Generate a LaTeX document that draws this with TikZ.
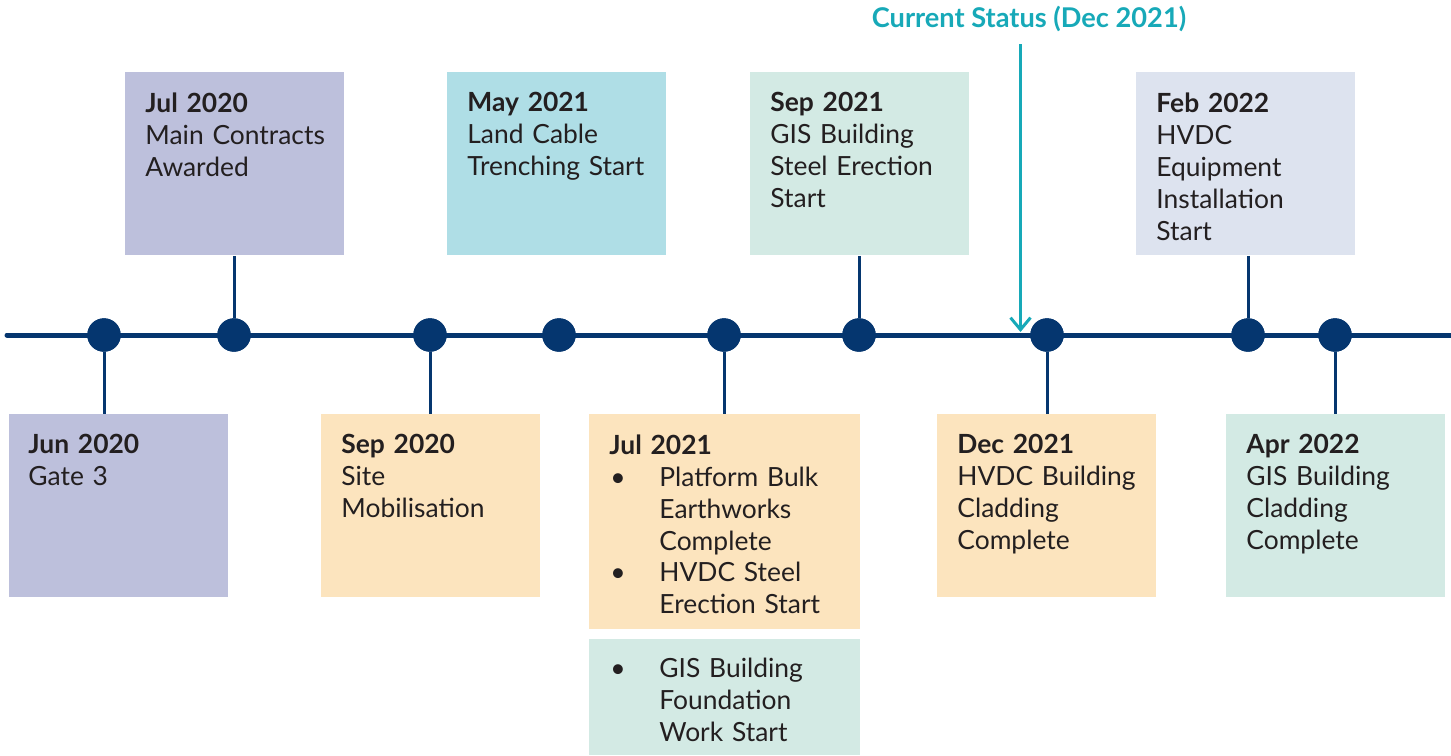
\documentclass[tikz,border=0pt]{standalone}
\usepackage{fontspec}
\setmainfont{Lato}
\usetikzlibrary{arrows.meta}

\definecolor{tlnavy}{HTML}{05366F}
\definecolor{tlteal}{HTML}{17A9B8}
\definecolor{ink}{HTML}{231F20}
\definecolor{lav}{HTML}{BDC0DC}
\definecolor{peach}{HTML}{FCE4BE}
\definecolor{mint}{HTML}{D3EAE4}
\definecolor{sky}{HTML}{AFDEE6}
\definecolor{mist}{HTML}{DDE3EF}

% bullet with its lines hung under the first one
\setlength{\lineskip}{0pt}
\newcommand{\tlitem}[1]{\strut\makebox[25pt][l]{\hspace{0.5pt}\textbullet}\parbox[t]{100pt}{\raggedright #1\strut}}

\begin{document}
\begin{tikzpicture}[x=0.5pt,y=-0.5pt,
    card/.style={rectangle, inner sep=0pt, anchor=north west,
      minimum width=109.5pt, minimum height=91.5pt},
    cardtext/.style={anchor=north west, inner sep=0pt, text width=100pt,
      align=left, text=ink, font=\fontsize{13.2}{16}\selectfont},
    milestone/.style={circle, fill=tlnavy, inner sep=0pt, minimum size=16.7pt},
    stem/.style={draw=tlnavy, line width=1.5pt}]
    \useasboundingbox (0,0) rectangle (1451,755);

    % the time line itself
    \coordinate (tl start) at (7,335);
    \coordinate (tl end) at (1460,335);
    \draw [tlnavy, line width=2.5pt, line cap=round] (tl start) -- (tl end);

    % milestone dots
    \foreach \n/\x in {d1/104, d2/234, d3/430, d4/559, d5/724, d6/859, d7/1047, d8/1248, d9/1335}
        \node [milestone] (\n) at (\x,335) {};

    % cards above the line
    \node [card, fill=lav] (jul20) at (125,72) {};
    \node [card, fill=sky] (may21) at (447,72) {};
    \node [card, fill=mint] (sep21) at (750,72) {};
    \node [card, fill=mist] (feb22) at (1136,72) {};
    % cards below the line
    \node [card, fill=lav] (jun20) at (9,414) {};
    \node [card, fill=peach] (sep20) at (321,414) {};
    \node [card, fill=peach, minimum width=135.5pt, minimum height=107.5pt] (jul21) at (589,414) {};
    \node [card, fill=mint, minimum width=135.5pt, minimum height=58pt] (gisfdn) at (589,639) {};
    \node [card, fill=peach] (dec21) at (937,414) {};
    \node [card, fill=mint] (apr22) at (1226,414) {};

    % stems
    \foreach \c/\d in {jul20/d2, sep21/d6, feb22/d8}
        \draw [stem] (\d |- \c.south) -- (\d);
    \foreach \c/\d in {jun20/d1, sep20/d3, jul21/d5, dec21/d7, apr22/d9}
        \draw [stem] (\d) -- (\d |- \c.north);
    % redraw dots over the stems
    \foreach \n in {d1,d2,d3,d4,d5,d6,d7,d8,d9}
        \fill [tlnavy] (\n) circle (8.35pt);

    % card texts
    \node [cardtext] (jul20 t) at ([shift={(20,20)}]jul20.north west) {\textbf{Jul 2020}\\Main Contracts\\Awarded};
    \node [cardtext] (may21 t) at ([shift={(20,20)}]may21.north west) {\textbf{May 2021}\\Land Cable\\Trenching Start};
    \node [cardtext] (sep21 t) at ([shift={(20,20)}]sep21.north west) {\textbf{Sep 2021}\\GIS Building\\Steel Erection\\Start};
    \node [cardtext] (feb22 t) at ([shift={(20,20)}]feb22.north west) {\textbf{Feb 2022}\\HVDC\\Equipment\\Installation\\Start};
    \node [cardtext] (jun20 t) at ([shift={(19,20)}]jun20.north west) {\textbf{Jun 2020}\\Gate 3};
    \node [cardtext] (sep20 t) at ([shift={(20,20)}]sep20.north west) {\textbf{Sep 2020}\\Site\\Mobilisation};
    \node [cardtext, text width=125pt] (jul21 t) at ([shift={(20,20)}]jul21.north west)
        {\textbf{Jul 2021}\\\tlitem{Platform Bulk\\Earthworks\\Complete}\\[-1.5pt]\tlitem{HVDC Steel\\Erection Start}};
    \node [cardtext, text width=125pt] (gisfdn t) at ([shift={(20,16)}]gisfdn.north west)
        {\tlitem{GIS Building\\Foundation\\Work Start}};
    \node [cardtext] (dec21 t) at ([shift={(20,20)}]dec21.north west) {\textbf{Dec 2021}\\HVDC Building\\Cladding\\Complete};
    \node [cardtext] (apr22 t) at ([shift={(20,20)}]apr22.north west) {\textbf{Apr 2022}\\GIS Building\\Cladding\\Complete};

    % current status marker
    \node [anchor=base, text=tlteal, font=\fontsize{13.6}{16}\selectfont\bfseries] (status) at (1029,27) {Current Status (Dec 2021)};
    \coordinate (now top) at (1020.5,44);
    \coordinate (now) at (1020.5,332);
    \draw [tlteal, line width=1.5pt, -{Straight Barb[length=6pt,width=10pt]}] (now top) -- (now);
\end{tikzpicture}
\end{document}
